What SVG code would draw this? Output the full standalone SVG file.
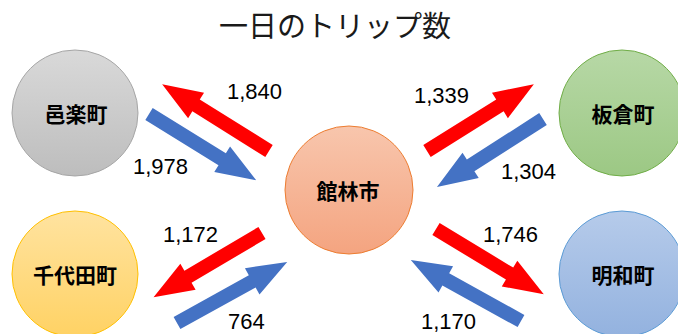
<svg xmlns="http://www.w3.org/2000/svg" width="678" height="334" viewBox="0 0 678 334">
<style>
.title{font-family:"Noto Sans CJK JP","Noto Sans CJK SC",sans-serif;font-size:29px;fill:#1a1a1a;text-anchor:middle}
.node{font-family:"Noto Sans CJK JP","Noto Sans CJK SC",sans-serif;font-size:21px;font-weight:bold;fill:#000;text-anchor:middle;dominant-baseline:central}
.num{font-family:"Liberation Sans","Noto Sans",sans-serif;font-size:22px;fill:#000}
.red{fill:#ff0000}
.blue{fill:#4472c4}
</style>
<defs>
<linearGradient id="gGray" x1="0" y1="0" x2="0" y2="1"><stop offset="0" stop-color="#d9d9d9"/><stop offset="1" stop-color="#bdbdbd"/></linearGradient>
<linearGradient id="gGreen" x1="0" y1="0" x2="0" y2="1"><stop offset="0" stop-color="#b7d8a6"/><stop offset="1" stop-color="#9cc884"/></linearGradient>
<linearGradient id="gOrange" x1="0" y1="0" x2="0" y2="1"><stop offset="0" stop-color="#f8c6ad"/><stop offset="1" stop-color="#f4a480"/></linearGradient>
<linearGradient id="gYellow" x1="0" y1="0" x2="0" y2="1"><stop offset="0" stop-color="#ffe3a0"/><stop offset="1" stop-color="#ffd264"/></linearGradient>
<linearGradient id="gBlue" x1="0" y1="0" x2="0" y2="1"><stop offset="0" stop-color="#b6cbea"/><stop offset="1" stop-color="#93b2df"/></linearGradient>
<polygon id="arrow" points="0,-7 86,-7 86,-15 126,0 86,15 86,7 0,7"/>
</defs>
<rect width="678" height="334" fill="#ffffff"/>
<text class="title" x="335" y="37">一日のトリップ数</text>
<g id="connectors">
<use href="#arrow" class="red" transform="translate(269,151) rotate(212)"/>
<use href="#arrow" class="blue" transform="translate(149,114) rotate(31.7)"/>
<use href="#arrow" class="red" transform="translate(427,151) rotate(-32)"/>
<use href="#arrow" class="blue" transform="translate(543,119) rotate(147.3)"/>
<use href="#arrow" class="red" transform="translate(262,233) rotate(149.4)"/>
<use href="#arrow" class="blue" transform="translate(177,323) rotate(-29)"/>
<use href="#arrow" class="red" transform="translate(436,229) rotate(31.2)"/>
<use href="#arrow" class="blue" transform="translate(521,321) rotate(209)"/>
<text class="num" x="227" y="99">1,840</text>
<text class="num" x="133" y="174">1,978</text>
<text class="num" x="414" y="103">1,339</text>
<text class="num" x="501" y="179">1,304</text>
<text class="num" x="163" y="242">1,172</text>
<text class="num" x="228" y="329">764</text>
<text class="num" x="483" y="242">1,746</text>
<text class="num" x="421" y="329">1,170</text>
</g>
<g id="oura">
<circle cx="75" cy="113" r="63" fill="url(#gGray)" stroke="#a6a6a6" stroke-width="1"/>
<text class="node" x="76" y="113">邑楽町</text>
</g>
<g id="itakura">
<circle cx="622" cy="113" r="63" fill="url(#gGreen)" stroke="#70ad47" stroke-width="1"/>
<text class="node" x="623" y="113">板倉町</text>
</g>
<g id="tatebayashi">
<circle cx="349" cy="190" r="64" fill="url(#gOrange)" stroke="#ed7d31" stroke-width="1"/>
<text class="node" x="348" y="190">館林市</text>
</g>
<g id="chiyoda">
<circle cx="75" cy="274" r="63" fill="url(#gYellow)" stroke="#ffc000" stroke-width="1"/>
<text class="node" x="75" y="274">千代田町</text>
</g>
<g id="meiwa">
<circle cx="622" cy="274" r="63" fill="url(#gBlue)" stroke="#5b9bd5" stroke-width="1"/>
<text class="node" x="623" y="274">明和町</text>
</g>
</svg>
